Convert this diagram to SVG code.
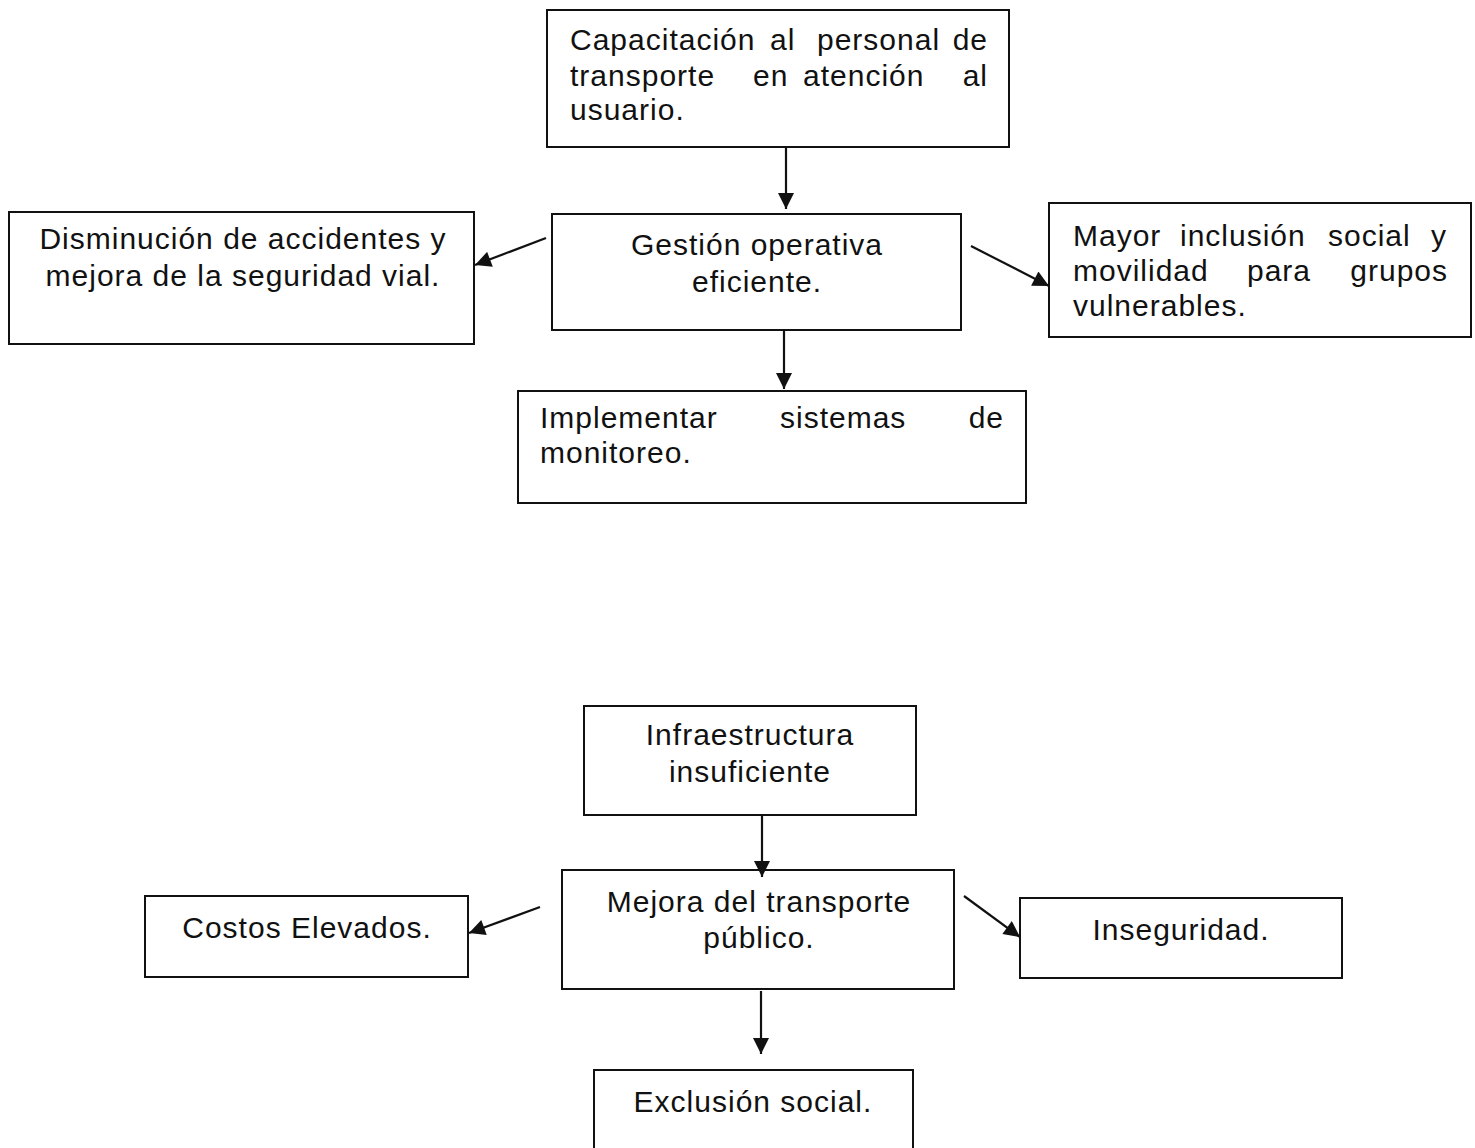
<svg xmlns="http://www.w3.org/2000/svg" width="1475" height="1148" viewBox="0 0 1475 1148">
<defs>
<marker id="ah" viewBox="0 0 10 10" refX="10" refY="5" markerWidth="18" markerHeight="16" markerUnits="userSpaceOnUse" orient="auto">
<path d="M0,0 L10,5 L0,10 z" fill="#111"/>
</marker>
<style>
.box{fill:#fff;stroke:#111;stroke-width:2}
.t{font-family:"Liberation Sans",Arial,sans-serif;font-size:30px;letter-spacing:1px;fill:#111}
.c{text-anchor:middle}
.ln{stroke:#111;stroke-width:2.2;fill:none;marker-end:url(#ah)}
</style>
</defs>
<rect width="1475" height="1148" fill="#fff"/>
<g id="n1">
<rect class="box" x="547" y="10" width="462" height="137"/>
<text class="t" y="50"><tspan x="570">Capacitación</tspan><tspan x="770">al</tspan><tspan x="817">personal</tspan><tspan x="988" text-anchor="end">de</tspan></text>
<text class="t" y="86"><tspan x="570">transporte</tspan><tspan x="753">en</tspan><tspan x="803">atención</tspan><tspan x="988" text-anchor="end">al</tspan></text>
<text class="t" x="570" y="120">usuario.</text>
</g>
<g id="n2">
<rect class="box" x="552" y="214" width="409" height="116"/>
<text class="t c" x="757" y="255">Gestión operativa</text>
<text class="t c" x="757" y="292">eficiente.</text>
</g>
<g id="n3">
<rect class="box" x="9" y="212" width="465" height="132"/>
<text class="t c" x="243" y="249">Disminución de accidentes y</text>
<text class="t c" x="243" y="286">mejora de la seguridad vial.</text>
</g>
<g id="n4">
<rect class="box" x="1049" y="203" width="422" height="134"/>
<text class="t" y="246"><tspan x="1073">Mayor</tspan><tspan x="1180">inclusión</tspan><tspan x="1328">social</tspan><tspan x="1447" text-anchor="end">y</tspan></text>
<text class="t" y="281"><tspan x="1073">movilidad</tspan><tspan x="1247">para</tspan><tspan x="1448" text-anchor="end">grupos</tspan></text>
<text class="t" x="1073" y="316">vulnerables.</text>
</g>
<g id="n5">
<rect class="box" x="518" y="391" width="508" height="112"/>
<text class="t" y="428"><tspan x="540">Implementar</tspan><tspan x="780">sistemas</tspan><tspan x="1004" text-anchor="end">de</tspan></text>
<text class="t" x="540" y="463">monitoreo.</text>
</g>
<g id="n6">
<rect class="box" x="584" y="706" width="332" height="109"/>
<text class="t c" x="750" y="745">Infraestructura</text>
<text class="t c" x="750" y="782">insuficiente</text>
</g>
<g id="n7">
<rect class="box" x="562" y="870" width="392" height="119"/>
<text class="t c" x="759" y="912">Mejora del transporte</text>
<text class="t c" x="759" y="948">público.</text>
</g>
<g id="n8">
<rect class="box" x="145" y="896" width="323" height="81"/>
<text class="t c" x="307" y="938">Costos Elevados.</text>
</g>
<g id="n9">
<rect class="box" x="1020" y="898" width="322" height="80"/>
<text class="t c" x="1181" y="940">Inseguridad.</text>
</g>
<g id="n10">
<rect class="box" x="594" y="1070" width="319" height="90"/>
<text class="t c" x="753" y="1112">Exclusión social.</text>
</g>
<g id="connectors">
<line class="ln" x1="786" y1="147" x2="786" y2="209"/>
<line class="ln" x1="546" y1="238" x2="475" y2="265"/>
<line class="ln" x1="971" y1="246" x2="1049" y2="286"/>
<line class="ln" x1="784" y1="330" x2="784" y2="389"/>
<line class="ln" x1="762" y1="815" x2="762" y2="877"/>
<line class="ln" x1="540" y1="907" x2="469" y2="933"/>
<line class="ln" x1="964" y1="896" x2="1020" y2="937"/>
<line class="ln" x1="761" y1="991" x2="761" y2="1054"/>
</g>
</svg>
